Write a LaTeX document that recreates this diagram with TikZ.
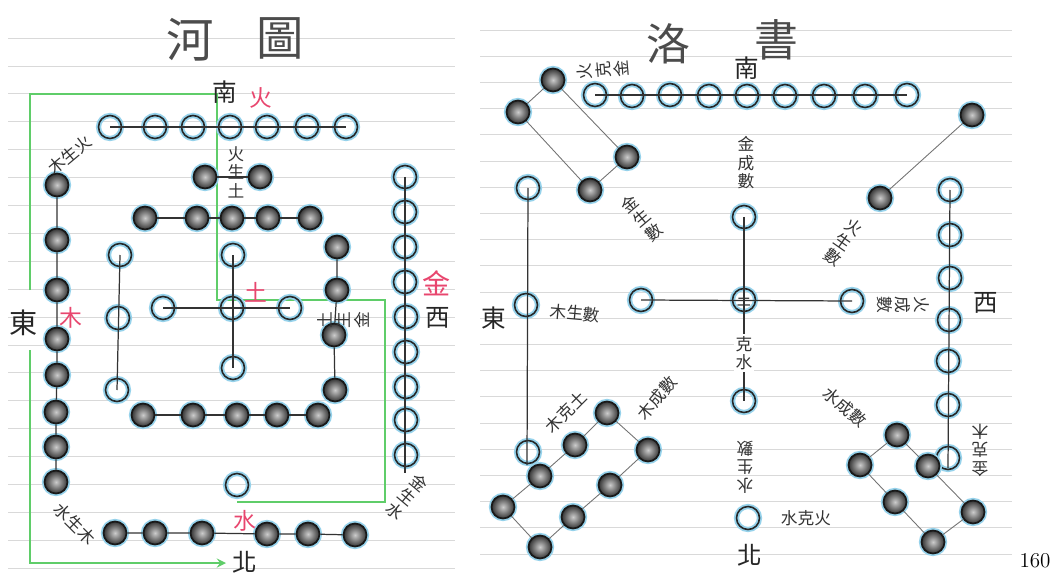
\documentclass[tikz,border=0pt]{standalone}
\usepackage{fontspec}
\newfontfamily\cjk{Noto Sans CJK TC}
\usetikzlibrary{arrows}
\definecolor{hgreen}{RGB}{95,205,105}
\definecolor{hred}{RGB}{232,70,110}
\definecolor{halo}{RGB}{150,210,235}

\begin{document}
\begin{tikzpicture}[
    x=0.02cm, y=-0.02cm,
    yang/.style={circle, draw=black!85, line width=0.9pt, minimum size=0.46cm, inner sep=0pt, preaction={draw=halo, line width=3pt}},
    yin/.style={circle, draw=black!90, line width=1pt, minimum size=0.46cm, inner sep=0pt, inner color=gray!40, outer color=black!80, preaction={draw=halo, line width=3pt}},
    link/.style={line width=0.7pt, black!80},
    thin/.style={line width=0.5pt, black!55},
    trail/.style={draw=hgreen, line width=1.3pt},
    rule/.style={gray!30, line width=0.4pt},
    lab/.style={font=\cjk\fontsize{9.5}{10.5}\selectfont, text=black!80, align=center, inner sep=0pt},
    dir/.style={font=\cjk\fontsize{14}{14}\selectfont, text=black!85, inner sep=0pt},
    elem/.style={font=\cjk\fontsize{13}{13}\selectfont, text=hred, inner sep=0pt},
    heading/.style={font=\cjk\fontsize{27}{27}\selectfont, text=black!70, inner sep=0pt}
]
\useasboundingbox (0,0) rectangle (1051,574);

% Ruled paper
\foreach \k in {0,...,19}
    \draw[rule] (8,38+27.9*\k) -- (455,38+27.9*\k);
\foreach \k in {0,...,20}
    \draw[rule] (480,30+26.2*\k) -- (1012,30+26.2*\k);

% ---------------- He Tu ----------------
\node[heading] (htitle1) at (190,40) {河};
\node[heading] (htitle2) at (280,38) {圖};

% Green trail
\coordinate (g1) at (30,290);
\coordinate (g2) at (30,94);
\coordinate (g3) at (217,94);
\coordinate (g4) at (217,300);
\coordinate (g5) at (385,300);
\coordinate (g6) at (385,502);
\coordinate (g7) at (237,502);
\coordinate (g8) at (30,350);
\coordinate (g9) at (30,563);
\coordinate (g10) at (226,563);
\draw[trail] (g1) -- (g2) -- (g3) -- (g4) -- (g5) -- (g6) -- (g7);
\draw[trail, ->, >=stealth] (g8) -- (g9) -- (g10);

% South: 7 outer, 2 inner
\node[yang] (hS1) at (110,127) {};
\node[yang] (hS2) at (155,127) {};
\node[yang] (hS3) at (193,127) {};
\node[yang] (hS4) at (230,127) {};
\node[yang] (hS5) at (267,127) {};
\node[yang] (hS6) at (307,127) {};
\node[yang] (hS7) at (346,127) {};
\node[yin] (hs1) at (205,177) {};
\node[yin] (hs2) at (260,177) {};

% Centre: 10 split in two rows, 5 in a cross
\node[yin] (hT1) at (145,218) {};
\node[yin] (hT2) at (197,218) {};
\node[yin] (hT3) at (232,218) {};
\node[yin] (hT4) at (268,218) {};
\node[yin] (hT5) at (310,218) {};
\node[yin] (hB1) at (143,415) {};
\node[yin] (hB2) at (193,415) {};
\node[yin] (hB3) at (237,415) {};
\node[yin] (hB4) at (277,415) {};
\node[yin] (hB5) at (318,415) {};
\node[yang] (hc0) at (232,308) {};
\node[yang] (hcu) at (233,255) {};
\node[yang] (hcd) at (233,368) {};
\node[yang] (hcl) at (163,308) {};
\node[yang] (hcr) at (290,308) {};

% East: 8 outer, 3 inner
\node[yin] (hE1) at (57,185) {};
\node[yin] (hE2) at (57,240) {};
\node[yin] (hE3) at (57,290) {};
\node[yin] (hE4) at (57,339) {};
\node[yin] (hE5) at (57,375) {};
\node[yin] (hE6) at (56,412) {};
\node[yin] (hE7) at (56,447) {};
\node[yin] (hE8) at (56,482) {};
\node[yang] (he1) at (120,255) {};
\node[yang] (he2) at (118,318) {};
\node[yang] (he3) at (117,390) {};

% West: 9 outer, 4 inner
\node[yang] (hW1) at (405,177) {};
\node[yang] (hW2) at (405,212) {};
\node[yang] (hW3) at (405,247) {};
\node[yang] (hW4) at (405,282) {};
\node[yang] (hW5) at (406,317) {};
\node[yang] (hW6) at (406,352) {};
\node[yang] (hW7) at (406,387) {};
\node[yang] (hW8) at (406,420) {};
\node[yang] (hW9) at (406,455) {};
\coordinate (hWend) at (405,473);
\node[yin] (hw1) at (337,247) {};
\node[yin] (hw2) at (337,290) {};
\node[yin] (hw3) at (334,335) {};
\node[yin] (hw4) at (335,390) {};

% North: 6 outer, 1 inner
\node[yin] (hN1) at (115,533) {};
\node[yin] (hN2) at (155,533) {};
\node[yin] (hN3) at (202,533) {};
\node[yin] (hN4) at (267,534) {};
\node[yin] (hN5) at (308,534) {};
\node[yin] (hN6) at (355,535) {};
\node[yang] (hn) at (237,485) {};

% He Tu connectors
\draw[link] (hS1.center) -- (hS7.center);
\draw[link] (hs1) -- (hs2);
\draw[link] (hT1) -- (hT2) -- (hT3) -- (hT4) -- (hT5);
\draw[link] (hB1) -- (hB2) -- (hB3) -- (hB4) -- (hB5);
\draw[link] (hcu.center) -- (hcd.center);
\draw[link] (hcl.center) -- (hcr.center);
\draw[link] (hE1) -- (hE2) -- (hE3) -- (hE4) -- (hE5) -- (hE6) -- (hE7) -- (hE8);
\draw[link] (he1.center) -- (he3.center);
\draw[link] (hW1.center) -- (hWend);
\draw[link] (hw1) -- (hw2) -- (hw3) -- (hw4);
\draw[link] (hN1) -- (hN2) -- (hN3) -- (hN4) -- (hN5) -- (hN6);

% He Tu labels
\node[dir] (hsouth) at (225,92) {南};
\node[dir] (hnorth) at (245,562) {北};
\node[dir, font=\cjk\fontsize{16}{16}\selectfont] (heast) at (24,323) {東};
\node[dir] (hwest) at (438,318) {西};
\node[elem] (hfire) at (261,98) {火};
\node[elem] (hwood) at (71,318) {木};
\node[elem] (hearth) at (256,292) {土};
\node[elem, font=\cjk\fontsize{16}{16}\selectfont] (hmetal) at (437,283) {金};
\node[elem] (hwater) at (245,521) {水};
\node[lab, rotate=40] (hgen1) at (70,155) {木生火};
\node[lab] (hgen2) at (236,172) {火\\生\\土};
\node[lab, rotate=90] (hgen3) at (343,320) {土\\生\\金};
\node[lab, rotate=-40] (hgen4) at (407,497) {金\\生\\水};
\node[lab, rotate=-45] (hgen5) at (75,524) {水生木};

% ---------------- Luo Shu ----------------
\node[heading, font=\cjk\fontsize{25}{25}\selectfont] (ltitle1) at (668,44) {洛};
\node[heading, font=\cjk\fontsize{25}{25}\selectfont] (ltitle2) at (776,40) {書};

% South: 9
\node[yang] (lS1) at (595,95) {};
\node[yang] (lS2) at (632,96) {};
\node[yang] (lS3) at (670,95) {};
\node[yang] (lS4) at (709,96) {};
\node[yang] (lS5) at (747,96) {};
\node[yang] (lS6) at (785,96) {};
\node[yang] (lS7) at (824,96) {};
\node[yang] (lS8) at (865,96) {};
\node[yang] (lS9) at (907,95) {};

% South-east: 4
\node[yin] (la1) at (553,80) {};
\node[yin] (la2) at (518,112) {};
\node[yin] (la3) at (627,157) {};
\node[yin] (la4) at (590,190) {};

% South-west: 2
\node[yin] (lb1) at (972,115) {};
\node[yin] (lb2) at (880,198) {};

% East: 3
\node[yang] (lE1) at (528,188) {};
\node[yang] (lE2) at (526,305) {};
\node[yang] (lE3) at (528,452) {};
\coordinate (lEend) at (527,465);

% Centre: 5
\node[yang, font=\cjk\fontsize{8}{8}\selectfont] (lc0) at (744,300) {土};
\node[yang] (lcu) at (744,217) {};
\node[yang] (lcd) at (744,401) {};
\node[yang] (lcl) at (641,300) {};
\node[yang] (lcr) at (852,301) {};

% West: 7
\node[yang] (lW1) at (950,190) {};
\node[yang] (lW2) at (950,235) {};
\node[yang] (lW3) at (950,278) {};
\node[yang] (lW4) at (949,320) {};
\node[yang] (lW5) at (948,361) {};
\node[yang] (lW6) at (948,405) {};
\node[yang] (lW7) at (948,458) {};
\coordinate (lWend) at (948,468);

% North: 1
\node[yang] (lN) at (748,518) {};

% North-east: 8
\node[yin] (lg1) at (607,413) {};
\node[yin] (lg2) at (575,445) {};
\node[yin] (lg3) at (540,476) {};
\node[yin] (lg4) at (503,507) {};
\node[yin] (lg5) at (540,547) {};
\node[yin] (lg6) at (573,517) {};
\node[yin] (lg7) at (610,485) {};
\node[yin] (lg8) at (648,450) {};

% North-west: 6
\node[yin] (lh1) at (897,435) {};
\node[yin] (lh2) at (860,465) {};
\node[yin] (lh3) at (928,466) {};
\node[yin] (lh4) at (895,502) {};
\node[yin] (lh5) at (973,512) {};
\node[yin] (lh6) at (933,542) {};

% Luo Shu connectors
\draw[link] (lS1.center) -- (lS9.center);
\draw[thin] (la1) -- (la2) -- (la4) -- (la3) -- (la1);
\draw[thin] (lb1) -- (lb2);
\draw[link] (lE1.center) -- (lEend);
\draw[link] (lcu.center) -- (lcd.center);
\draw[link] (lcl.center) -- (lcr.center);
\draw[link] (lW1.center) -- (lWend);
\draw[thin] (lg1) -- (lg2) -- (lg3) -- (lg4) -- (lg5) -- (lg6) -- (lg7) -- (lg8) -- (lg1);
\draw[thin] (lh1) -- (lh2) -- (lh4) -- (lh6) -- (lh5) -- (lh3) -- (lh1);

% Luo Shu labels
\node[dir] (lsouth) at (747,68) {南};
\node[dir] (lnorth) at (750,555) {北};
\node[dir] (least) at (494,318) {東};
\node[dir] (lwest) at (986,303) {西};
\node[lab, rotate=95] (lover1) at (603,70) {火\\克\\金};
\node[lab, rotate=40] (lnum4) at (642,218) {金\\生\\數};
\node[lab] (lnum9) at (746,163) {金\\成\\數};
\node[lab, rotate=-5] (lnum3) at (575,313) {木生數};
\node[lab, rotate=-35] (lnum2) at (843,242) {火\\生\\數};
\node[lab, fill=white, inner sep=1pt] (lover2) at (744,353) {克\\水};
\node[lab, rotate=-90] (lnum7) at (903,305) {火\\成\\數};
\node[lab, rotate=45] (lover3) at (566,412) {木克土};
\node[lab, rotate=50] (lnum8) at (657,398) {木成數};
\node[lab, rotate=180] (lnum1) at (745,467) {水\\生\\數};
\node[lab] (lover4) at (806,518) {水克火};
\node[lab, rotate=-40] (lnum6) at (845,407) {水成數};
\node[lab, rotate=180] (lover5) at (980,450) {金\\克\\木};

% Page number
\node[font=\fontsize{12}{12}\selectfont] (page) at (1035,561) {160};

\end{tikzpicture}
\end{document}
